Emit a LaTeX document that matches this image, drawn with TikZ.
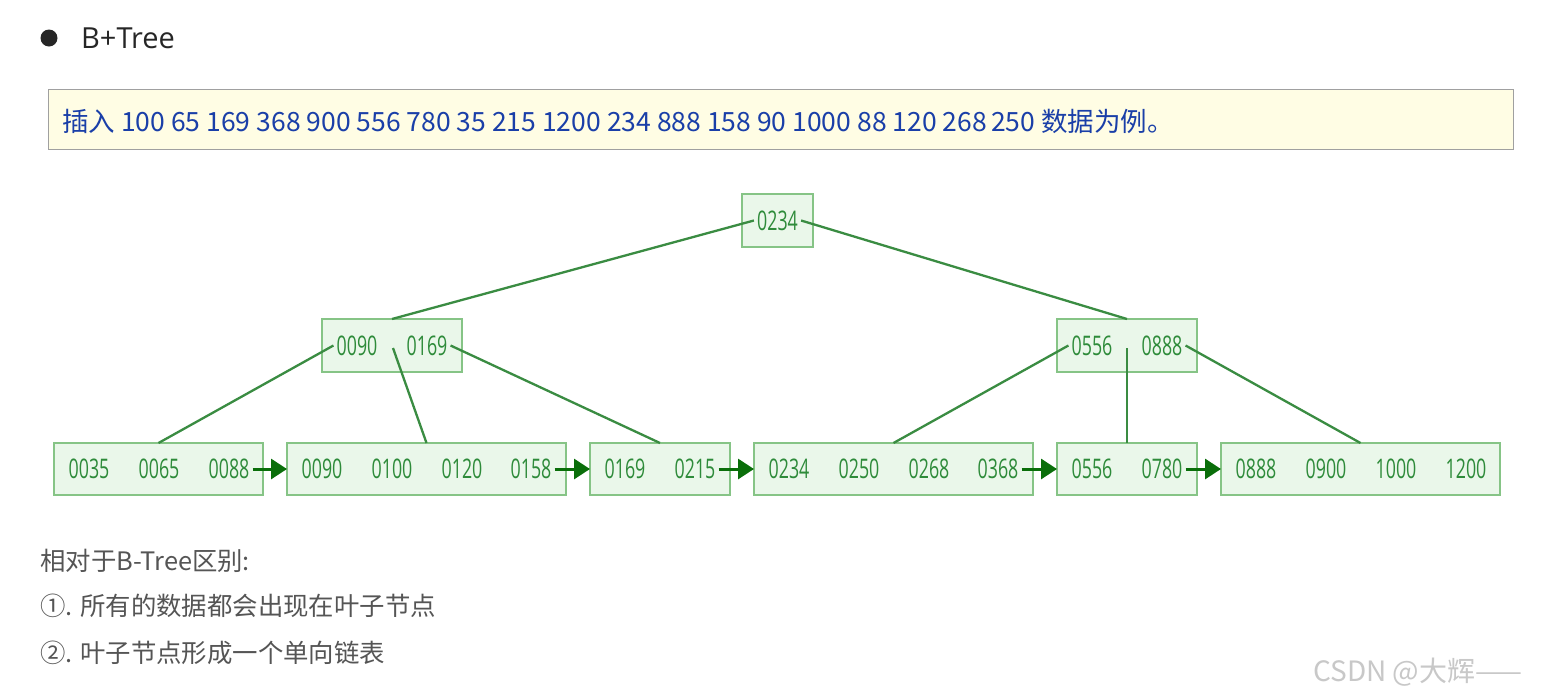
\documentclass[tikz,border=0pt]{standalone}
\usepackage{fontspec}
\setmainfont{Noto Sans CJK SC}
\newfontfamily\titelfont{Open Sans}
\newfontfamily\zahlfont[FakeStretch=0.66]{Open Sans}
\usepackage{xcolor}
\definecolor{gruenrand}{HTML}{86C486}
\definecolor{gruenfill}{HTML}{EAF7EA}
\definecolor{gruentext}{HTML}{2E8B3A}
\definecolor{gruenlinie}{HTML}{3A8C42}
\definecolor{pfeilgruen}{HTML}{0A6E0A}
\definecolor{gelbfill}{HTML}{FFFDE4}
\definecolor{gelbrand}{HTML}{A0A0A0}
\definecolor{blautext}{HTML}{1A3FA8}
\definecolor{grautext}{HTML}{555555}
\definecolor{wasser}{HTML}{C8C8C8}
\usetikzlibrary{arrows.meta}
\tikzstyle{knotenbox} = [rectangle, draw=gruenrand, fill=gruenfill, line width=1.3pt, minimum height=52pt, inner sep=0, outer sep=0]
\tikzstyle{schluessel} = [inner sep=3pt, text=gruentext, font={\zahlfont\fontsize{27}{27}\selectfont}]
\tikzstyle{ast} = [draw=gruenlinie, line width=2.3pt]
\tikzstyle{kette} = [draw=pfeilgruen, line width=3pt, -{Triangle[length=16pt,width=20pt]}]
\tikzstyle{zeile} = [anchor=base west, inner sep=0, text=grautext, font={\fontsize{25.4}{25.4}\selectfont}]

\begin{document}
\begin{tikzpicture}[x=1pt, y=-1pt]
\useasboundingbox (0,0) rectangle (1545,697);
\fill[white] (0,0) rectangle (1545,697);

% heading
\node (punkt) [circle, fill=black!85, minimum size=17pt, inner sep=0] at (49,38) {};
\node (titel) [anchor=base west, inner sep=0, text=black!85, font={\titelfont\fontsize{29}{29}\selectfont}] at (81,48) {B+Tree};

\node (hinweis) [anchor=north west, draw=gelbrand, fill=gelbfill, line width=1pt, minimum width=1465pt, minimum height=60pt] at (48,89) {};
\node (hinweistext) [anchor=base west, inner sep=0, text=blautext, font={\fontsize{26.5}{26.5}\selectfont}] at (62,131) {插入 100 65 169 368 900 556 780 35 215 1200 234 888 158 90 1000 88 120 268\,250 数据为例。};

% root
\node (wurzel) [knotenbox, minimum width=71pt, minimum height=53pt] at (777.5,220.5) {};
\node (r234) [schluessel] at (777.5,220.5) {0234};

% inner nodes
\node (innenl) [knotenbox, minimum width=140pt, minimum height=53pt] at (392,345.5) {};
\node (i90) [schluessel] at (357,345.5) {0090};
\node (i169) [schluessel] at (427,345.5) {0169};
\coordinate (mittel) at (393,348);

\node (innenr) [knotenbox, minimum width=140pt, minimum height=53pt] at (1127,345.5) {};
\node (i556) [schluessel] at (1092,345.5) {0556};
\node (i888) [schluessel] at (1162,345.5) {0888};
\coordinate (mittelr) at (1127,348);

% leaves
\node (blatt1) [knotenbox, minimum width=209pt] at (158.5,469) {};
\node (k35) [schluessel] at (89,469) {0035};
\node (k65) [schluessel] at (159,469) {0065};
\node (k88) [schluessel] at (229,469) {0088};

\node (blatt2) [knotenbox, minimum width=279pt] at (426.5,469) {};
\node (k90) [schluessel] at (322,469) {0090};
\node (k100) [schluessel] at (392,469) {0100};
\node (k120) [schluessel] at (462,469) {0120};
\node (k158) [schluessel] at (531,469) {0158};

\node (blatt3) [knotenbox, minimum width=140pt] at (660,469) {};
\node (k169) [schluessel] at (625,469) {0169};
\node (k215) [schluessel] at (695,469) {0215};

\node (blatt4) [knotenbox, minimum width=279pt] at (893.5,469) {};
\node (k234) [schluessel] at (789,469) {0234};
\node (k250) [schluessel] at (859,469) {0250};
\node (k268) [schluessel] at (929,469) {0268};
\node (k368) [schluessel] at (998,469) {0368};

\node (blatt5) [knotenbox, minimum width=140pt] at (1127,469) {};
\node (k556) [schluessel] at (1092,469) {0556};
\node (k780) [schluessel] at (1162,469) {0780};

\node (blatt6) [knotenbox, minimum width=279pt] at (1360.5,469) {};
\node (k888) [schluessel] at (1256,469) {0888};
\node (k900) [schluessel] at (1326,469) {0900};
\node (k1000) [schluessel] at (1396,469) {1000};
\node (k1200) [schluessel] at (1466,469) {1200};

% branches
\draw[ast] (r234.west) -- (innenl.north);
\draw[ast] (r234.east) -- (innenr.north);

\draw[ast] (i90.west) -- (blatt1.north);
\draw[ast] (mittel) -- (blatt2.north);
\draw[ast] (i169.east) -- (blatt3.north);

\draw[ast] (i556.west) -- (blatt4.north);
\draw[ast] (mittelr) -- (blatt5.north);
\draw[ast] (i888.east) -- (blatt6.north);

% leaf chain
\draw[kette] (k88.east) -- (blatt2.west);
\draw[kette] (k158.east) -- (blatt3.west);
\draw[kette] (k215.east) -- (blatt4.west);
\draw[kette] (k368.east) -- (blatt5.west);
\draw[kette] (k780.east) -- (blatt6.west);

% notes
\node (zeile1) [zeile] at (40,570) {相对于B-Tree区别:};
\node (zeile2) [zeile] at (40,615) {①. 所有的数据都会出现在叶子节点};
\node (zeile3) [zeile] at (40,662) {②. 叶子节点形成一个单向链表};

\node (marke) [anchor=base west, inner sep=0, text=wasser, font={\fontsize{28}{28}\selectfont}] at (1313,681) {CSDN @大辉——};

\end{tikzpicture}
\end{document}
